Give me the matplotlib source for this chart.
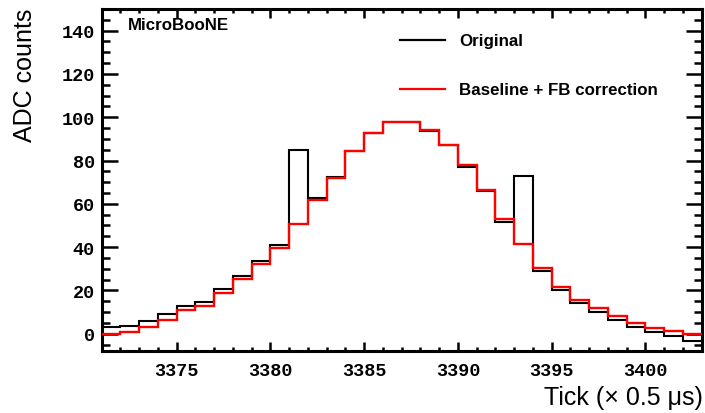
import matplotlib
matplotlib.use("Agg")
import matplotlib.pyplot as plt
import numpy as np

# Bin edges (tick numbers) and contents
bin_lo = list(range(3371, 3403))
original = [3.0, 3.7, 5.8, 8.9, 13.0, 14.8, 20.8, 26.8, 33.7, 40.8,
            84.9, 62.9, 72.3, 84.6, 92.8, 97.8, 98.0, 93.8, 87.2, 76.9,
            65.8, 51.8, 72.8, 28.9, 20.3, 14.2, 10.0, 6.2, 3.0, 0.9,
            -1.0, -3.3]
corrected = [0.0, 1.0, 3.0, 6.2, 10.8, 12.8, 18.9, 25.1, 32.3, 39.7,
             50.6, 61.8, 72.0, 84.3, 92.6, 97.8, 98.0, 94.3, 87.4, 77.7,
             66.6, 53.1, 41.5, 30.3, 21.5, 15.7, 11.8, 8.0, 5.1, 2.6,
             1.2, -0.1]
x_ticks = [3375, 3380, 3385, 3390, 3395, 3400]
y_ticks = [0, 20, 40, 60, 80, 100, 120, 140]
labels = ["Original", "Baseline + FB correction"]

edges = np.array(bin_lo + [bin_lo[-1] + 1])

fig = plt.figure(figsize=(7.05, 4.14), dpi=100)
ax = fig.add_axes([101.7 / 705, 62 / 414, 600 / 705, 342 / 414])

ax.stairs(original, edges, color="black", linewidth=1.5, baseline=None, zorder=2)
ax.stairs(corrected, edges, color="#ff0000", linewidth=1.7, baseline=None, zorder=3)

ax.set_xlim(3371, 3403)
ax.set_ylim(-8, 150)

ax.set_xticks(x_ticks)
ax.set_xticks(np.arange(3371, 3404, 1), minor=True)
ax.set_yticks(y_ticks)
ax.set_yticks(np.arange(-5, 150, 5), minor=True)

for s in ax.spines.values():
    s.set_linewidth(2.2)

ax.tick_params(axis="both", which="both", direction="in", top=True, right=True,
               width=1.8)
ax.tick_params(axis="x", which="major", length=6.5, pad=8)
ax.tick_params(axis="x", which="minor", length=3)
ax.tick_params(axis="y", which="major", length=11.5, pad=5)
ax.tick_params(axis="y", which="minor", length=5.5)

for lab in ax.get_xticklabels() + ax.get_yticklabels():
    lab.set_fontfamily("Liberation Mono")
    lab.set_fontweight("bold")
    lab.set_fontsize(13.3)

fig.text(25 / 705, 1 - 9 / 414, "ADC counts", rotation=90, ha="center", va="top",
         fontsize=18, fontfamily="Liberation Sans")
fig.text(703 / 705, 1 - 398 / 414, "Tick (\u00d7 0.5 \u03bcs)", ha="right", va="center",
         fontsize=18, fontfamily="Liberation Sans")

ax.text(0.044, 0.956, "MicroBooNE", transform=ax.transAxes, ha="left", va="center",
        fontsize=12.2, fontweight="bold", fontfamily="Liberation Sans")

# legend
ax.plot([0.497, 0.572], [0.909, 0.909], color="black", linewidth=1.6,
        transform=ax.transAxes, clip_on=False)
ax.plot([0.497, 0.572], [0.766, 0.766], color="#ff0000", linewidth=1.6,
        transform=ax.transAxes, clip_on=False)
ax.text(0.5955, 0.909, labels[0], transform=ax.transAxes, ha="left", va="center",
        fontsize=12.2, fontweight="bold", fontfamily="Liberation Sans")
ax.text(0.5955, 0.766, labels[1], transform=ax.transAxes, ha="left", va="center",
        fontsize=12.2, fontweight="bold", fontfamily="Liberation Sans")

fig.savefig("out.png", dpi=100)
